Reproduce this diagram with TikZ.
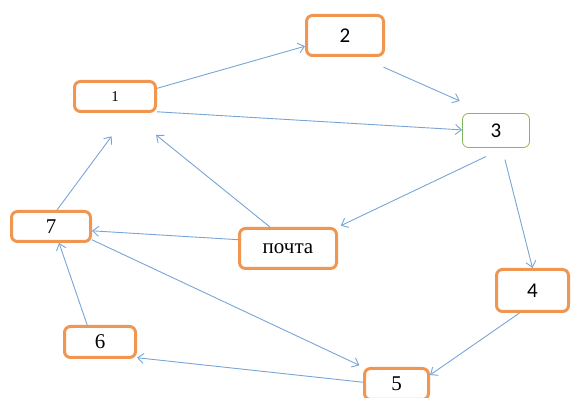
\documentclass[tikz,border=0pt]{standalone}
\usepackage{fontspec}
\setmainfont{Liberation Serif}
\newfontfamily\calfont{Carlito}
\usetikzlibrary{arrows.meta}
\definecolor{boxorange}{RGB}{240,150,80}
\definecolor{boxgreen}{RGB}{130,185,95}
\definecolor{arrblue}{RGB}{120,165,215}
\begin{document}
\begin{tikzpicture}[x=1pt, y=-1pt,
    box/.style={draw=boxorange, line width=3pt, rounded corners=6pt, fill=white, inner sep=0pt, font=\fontsize{21}{24}\selectfont},
    greenbox/.style={box, draw=boxgreen, line width=0.8pt},
    arr/.style={draw=arrblue, line width=0.9pt, -{Straight Barb[length=6pt,width=10pt]}}]
  \useasboundingbox (0,0) rectangle (571,398);
  \node[box, minimum width=81, minimum height=30] (n1) at (115,96.5) {\fontsize{15}{18}\selectfont 1};
  \node[box, minimum width=77, minimum height=40] (n2) at (345,35.5) {\calfont 2};
  \node[greenbox, minimum width=67, minimum height=34] (n3) at (496,130.5) {\calfont 3};
  \node[box, minimum width=97, minimum height=40] (np) at (288,248.5) {почта};
  \node[box, minimum width=79, minimum height=30] (n7) at (51,226.5) {7};
  \node[box, minimum width=72, minimum height=42] (n4) at (532.5,290.5) {\calfont 4};
  \node[box, minimum width=71, minimum height=31] (n6) at (100,342) {6};
  \node[box, minimum width=64, minimum height=31] (n5) at (396.5,384) {5};
  \draw[arr] (n1.11) -- (n2.195);
  \draw[arr, shorten <=25pt, shorten >=30pt] (n2.-54) -- (n3.117);
  \draw[arr] (n1.-20) -- (n3.179);
  \draw[arr, shorten <=12pt] (n3.-71) -- (n4.north);
  \draw[arr, shorten <=20pt, shorten >=3pt] (n3.-65) -- (np.north east);
  \draw[arr, shorten >=35pt] (np.130) -- (n1.-50);
  \draw[arr, shorten >=29pt] (n7.70) -- (n1.-50);
  \draw[arr] (np.170) -- (n7.-6);
  \draw[arr, shorten >=4pt] (n7.-18) -- (n5.north west);
  \draw[arr] (n4.-120) -- (n5.15);
  \draw[arr] (n5.177) -- (n6.-23);
  \draw[arr] (n6.127) -- (n7.-64);
\end{tikzpicture}
\end{document}
